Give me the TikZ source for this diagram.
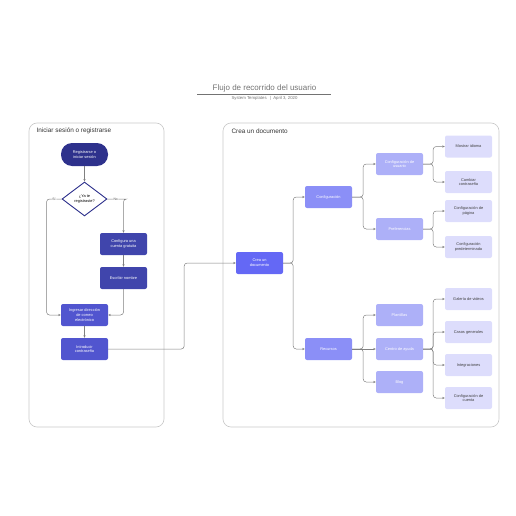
\documentclass[tikz,border=0pt]{standalone}
\usepackage{fontspec}
\setmainfont{Liberation Sans}
\usetikzlibrary{arrows.meta,shapes.geometric}

\definecolor{navy}{HTML}{2E318C}
\definecolor{indigo}{HTML}{4045AC}
\definecolor{royal}{HTML}{5155CF}
\definecolor{violet}{HTML}{6468F5}
\definecolor{lavA}{HTML}{8B8FF7}
\definecolor{lavB}{HTML}{ADB0F8}
\definecolor{lavC}{HTML}{DDDDFC}
\definecolor{wire}{HTML}{808080}
\definecolor{frame}{HTML}{C8C8C8}

\begin{document}
\begin{tikzpicture}[x=1pt,y=-1pt,
        box/.style={rectangle, rounded corners=2pt, minimum width=47pt, minimum height=22pt,
          inner sep=1pt, align=center, text=white, font=\fontsize{3.9}{4.7}\selectfont},
        startnode/.style={box, fill=navy, rounded corners=11pt, minimum height=23pt},
        asknode/.style={diamond, draw=navy, line width=0.9pt, fill=white, minimum width=45pt,
          minimum height=34pt, inner sep=0pt, align=center, font=\fontsize{3.9}{4.7}\selectfont},
        darknode/.style={box, fill=indigo},
        midnode/.style={box, fill=royal},
        docnode/.style={box, fill=violet},
        firstnode/.style={box, fill=lavA},
        secondnode/.style={box, fill=lavB},
        thirdnode/.style={box, fill=lavC, text=black!75},
        line/.style={draw=wire, line width=0.5pt, rounded corners=3pt,
          -{Stealth[length=2.6pt,width=2.2pt]}},
        lbl/.style={fill=white, inner sep=0.6pt, text=black!70, font=\fontsize{3.4}{4}\selectfont},
        panel/.style={draw=frame, line width=0.6pt, rounded corners=8pt},
      ]
      \useasboundingbox (0,0) rectangle (516,516);

      % Title
      \node[font=\fontsize{8}{9}\selectfont, text=black!55] (title) at (264.5,88) {Flujo de recorrido del usuario};
      \draw[black!55, line width=0.5pt] (197,94) -- (331,94);
      \node[font=\fontsize{4.3}{5}\selectfont, text=black!55] (sub) at (264.5,98.5) {System Templates \enspace|\enspace April 3, 2020};

      % Panels
      \draw[panel] (29,123) rectangle (164,427);
      \draw[panel] (223,123) rectangle (499,427);
      \node[anchor=west, font=\fontsize{6.4}{7}\selectfont, text=black!80] (leftlabel) at (33,131) {Iniciar sesión o registrarse};
      \node[anchor=west, font=\fontsize{6.4}{7}\selectfont, text=black!80] (rightlabel) at (228,131) {Crea un documento};

      % Nodes
      \node[startnode] (start) at (84.5,154.5) {Registrarse o\\iniciar sesión};
      \node[asknode] (ask) at (84.5,199) {¿Ya te\\registraste?};
      \node[darknode] (account) at (123.5,244) {Configura una\\cuenta gratuita};
      \node[darknode] (name) at (123.5,278) {Escribir nombre};
      \node[midnode] (mail) at (84.5,315) {Ingresar dirección\\de correo\\electrónico};
      \node[midnode] (password) at (84.5,349) {Introducir\\contraseña};

      \node[docnode] (doc) at (259.5,263) {Crea un\\documento};

      \node[firstnode] (config) at (328.5,197) {Configuración};
      \node[firstnode] (resources) at (328.5,349) {Recursos};

      \node[secondnode] (userconf) at (399.5,164) {Configuración de\\usuario};
      \node[secondnode] (prefs) at (399.5,229) {Preferencias};
      \node[secondnode] (templates) at (399.5,315) {Plantillas};
      \node[secondnode] (help) at (399.5,349) {Centro de ayuda};
      \node[secondnode] (blog) at (399.5,382) {Blog};

      \node[thirdnode] (language) at (468.5,146.5) {Mostrar idioma};
      \node[thirdnode] (changepw) at (468.5,182) {Cambiar\\contraseña};
      \node[thirdnode] (pageconf) at (468.5,211) {Configuración de\\página};
      \node[thirdnode] (default) at (468.5,247) {Configuración\\predeterminada};
      \node[thirdnode] (videos) at (468.5,299) {Galería de videos};
      \node[thirdnode] (cases) at (468.5,332) {Casos generales};
      \node[thirdnode] (integrations) at (468.5,365) {Integraciones};
      \node[thirdnode] (accountconf) at (468.5,398) {Configuración de\\cuenta};

      % Lines
      \draw[line] (start) -- (ask);
      \draw[line] (ask.west) -- node[lbl] {Sí} ++(-15,0) |- (mail.west);
      \draw[line] (ask.east) -- node[lbl] {No} ++(16.5,0) -| (account.north);
      \draw[line] (account) -- (name);
      \draw[line] (name.south) |- (mail.east);
      \draw[line] (mail) -- (password);
      \draw[line] (password.east) -- ++(76,0) |- (doc.west);

      \draw[line] (doc.east) -- ++(10,0) |- (config.west);
      \draw[line] (doc.east) -- ++(10,0) |- (resources.west);

      \draw[line] (config.east) -- ++(11,0) |- (userconf.west);
      \draw[line] (config.east) -- ++(11,0) |- (prefs.west);
      \draw[line] (resources.east) -- ++(11,0) |- (templates.west);
      \draw[line] (resources.east) -- (help.west);
      \draw[line] (resources.east) -- ++(11,0) |- (blog.west);

      \draw[line] (userconf.east) -- ++(10,0) |- (language.west);
      \draw[line] (userconf.east) -- ++(10,0) |- (changepw.west);
      \draw[line] (prefs.east) -- ++(10,0) |- (pageconf.west);
      \draw[line] (prefs.east) -- ++(10,0) |- (default.west);
      \draw[line] (help.east) -- ++(10,0) |- (videos.west);
      \draw[line] (help.east) -- ++(10,0) |- (cases.west);
      \draw[line] (help.east) -- ++(10,0) |- (integrations.west);
      \draw[line] (help.east) -- ++(10,0) |- (accountconf.west);
    \end{tikzpicture}
\end{document}
